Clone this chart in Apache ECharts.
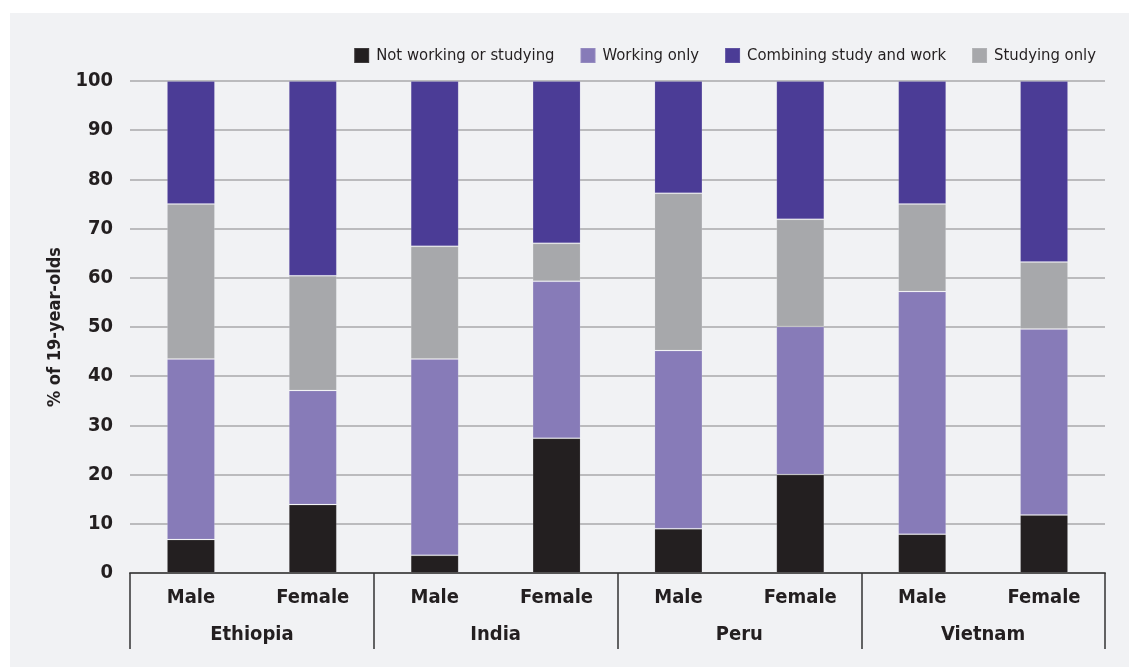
<!DOCTYPE html>
<html>
<head>
<meta charset="utf-8">
<script src="https://cdn.jsdelivr.net/npm/echarts@6/dist/echarts.min.js"></script>
<style>
    html, body { margin: 0; padding: 0; background: #ffffff; }
    #panel { position: absolute; left: 10px; top: 13px; width: 1119px; height: 654px; background: #f1f2f4; }
    #chart { position: absolute; left: 0; top: 0; width: 1129px; height: 667px; }
</style>
</head>
<body>
<div id="panel"></div>
<div id="chart"></div>
<script>
// 数据
const countries = ['Ethiopia', 'India', 'Peru', 'Vietnam'];
const genders = ['Male', 'Female', 'Male', 'Female', 'Male', 'Female', 'Male', 'Female'];
const notWorking = [6.8, 13.9, 3.6, 27.4, 9.0, 20.0, 7.9, 11.8];
const workingOnly = [36.7, 23.2, 39.9, 31.9, 36.2, 30.1, 49.3, 37.8];
const studyingOnly = [31.5, 23.3, 22.9, 7.7, 32.0, 21.8, 17.8, 13.6];
const combining = [25.0, 39.6, 33.6, 33.0, 22.8, 28.1, 25.0, 36.8];
const yTicks = { min: 0, max: 100, interval: 10 };

const FONT = '"Liberation Sans Narrow", "DejaVu Sans Condensed", "Liberation Sans", sans-serif';
const INK = '#231f20';

const chart = echarts.init(document.getElementById('chart'));

function barSeries(name, data, color) {
    return {
        name: name,
        type: 'bar',
        stack: 'total',
        barWidth: 48,
        data: data,
        itemStyle: { color: color, borderColor: 'rgba(255,255,255,0.12)', borderWidth: 1 }
    };
}

const option = {
    backgroundColor: 'transparent',
    animation: false,
    legend: {
        top: 42,
        right: 28,
        icon: 'rect',
        itemWidth: 15,
        itemHeight: 15,
        itemGap: 25,
        data: ['Not working or studying', 'Working only', 'Combining study and work', 'Studying only'],
        textStyle: { fontFamily: FONT, fontSize: 16.5, color: INK, padding: [0, 0, 0, 2] }
    },
    grid: { left: 130, right: 24, top: 81, bottom: 94 },
    xAxis: [{
        type: 'category',
        data: genders,
        axisLine: { show: true, lineStyle: { color: '#555555', width: 2 } },
        axisTick: { show: false },
        axisLabel: { margin: 15, fontFamily: FONT, fontWeight: 'bold', fontSize: 20, color: INK }
    }, {
        type: 'category',
        data: countries,
        position: 'bottom',
        axisLine: { show: false },
        axisTick: { show: true, length: 76, lineStyle: { color: '#333333', width: 1.5 } },
        axisLabel: { margin: 52, fontFamily: FONT, fontWeight: 'bold', fontSize: 20, color: INK }
    }],
    yAxis: {
        type: 'value',
        min: yTicks.min,
        max: yTicks.max,
        interval: yTicks.interval,
        name: '% of 19-year-olds',
        nameLocation: 'middle',
        nameGap: 56,
        nameTextStyle: { fontFamily: FONT, fontWeight: 'bold', fontSize: 18, color: INK },
        axisLine: { show: false },
        axisTick: { show: false },
        axisLabel: { margin: 17, fontFamily: FONT, fontWeight: 'bold', fontSize: 20, color: INK },
        splitLine: { lineStyle: { color: '#a9a9ab', width: 1.5 } }
    },
    series: [
        barSeries('Not working or studying', notWorking, '#231f20'),
        barSeries('Working only', workingOnly, '#877bb8'),
        barSeries('Studying only', studyingOnly, '#a7a8ab'),
        barSeries('Combining study and work', combining, '#4b3c96')
    ]
};

chart.setOption(option);
</script>
</body>
</html>
